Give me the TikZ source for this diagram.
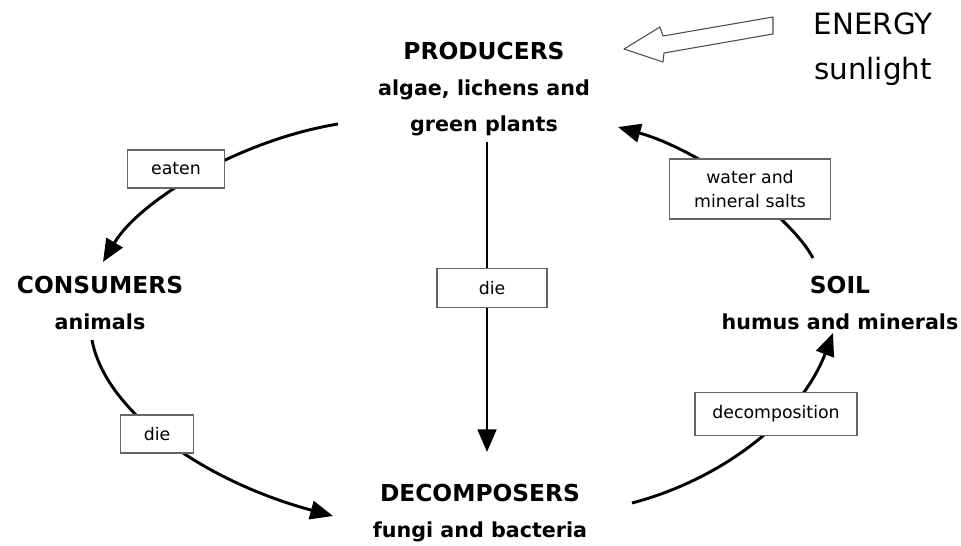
\documentclass[tikz,border=0pt]{standalone}
\usepackage{fontspec}
\setmainfont{DejaVu Sans}
\usetikzlibrary{arrows.meta}
\begin{document}
\begin{tikzpicture}[x=0.75pt,y=-0.75pt,
  stage/.style={align=center,font=\fontsize{15.5}{27}\selectfont\bfseries,inner sep=0pt},
  tag/.style={draw=black!60,line width=0.8pt,fill=white,align=center,
    font=\fontsize{13}{18}\selectfont,inner sep=0pt},
  flow/.style={line width=2.2pt,-{Triangle[length=17pt,width=14pt]}}]
\newcommand{\headline}[1]{{\fontsize{17.5}{27}\selectfont #1}}
\useasboundingbox (0,0) rectangle (961,546);

% stages of the cycle
\node[stage] (prod) at (484,89) {\headline{PRODUCERS}\\algae, lichens and\\green plants};
\node[stage] (cons) at (100,303) {\headline{CONSUMERS}\\animals};
\node[stage] (soil) at (840,303) {\headline{SOIL}\\humus and minerals};
\node[stage] (deco) at (480,513) {\headline{DECOMPOSERS}\\fungi and bacteria};

% energy input
\node[align=center,font=\fontsize{22}{34}\selectfont,inner sep=0pt] (energy) at (873,49) {ENERGY\\sunlight};
\draw[line width=0.8pt,black!70,line join=round]
  (624,49) -- (660,27) -- (663,36) -- (773,17) -- (773,34) -- (664,53) -- (663,62) -- cycle;

% connection points
\coordinate (a1) at (338,124);
\coordinate (a2) at (103,262);
\coordinate (b1) at (92,340);
\coordinate (b2) at (333,516);
\coordinate (c1) at (487,142);
\coordinate (c2) at (487,452);
\coordinate (d1) at (632,503);
\coordinate (d2) at (833,333);
\coordinate (e1) at (813,258);
\coordinate (e2) at (618,127);

% flows
\draw[flow] (a1) .. controls (240,140) and (140,200) .. (a2);
\draw[flow] (b1) .. controls (105,410) and (200,480) .. (b2);
\draw[flow] (c1) -- (c2);
\draw[flow] (d1) .. controls (720,480) and (800,420) .. (d2);
\draw[flow] (e1) .. controls (790,215) and (700,150) .. (e2);

% flow labels
\node[tag,minimum width=97pt*0.75,minimum height=38pt*0.75] (t1) at (176,169) {eaten};
\node[tag,minimum width=73pt*0.75,minimum height=38pt*0.75] (t2) at (157,434) {die};
\node[tag,minimum width=110pt*0.75,minimum height=39pt*0.75] (t3) at (492,288) {die};
\node[tag,minimum width=161pt*0.75,minimum height=60pt*0.75] (t4) at (750,189) {water and\\mineral salts};
\node[tag,minimum width=162pt*0.75,minimum height=43pt*0.75] (t5) at (776,414) {decomposition};
\end{tikzpicture}
\end{document}
